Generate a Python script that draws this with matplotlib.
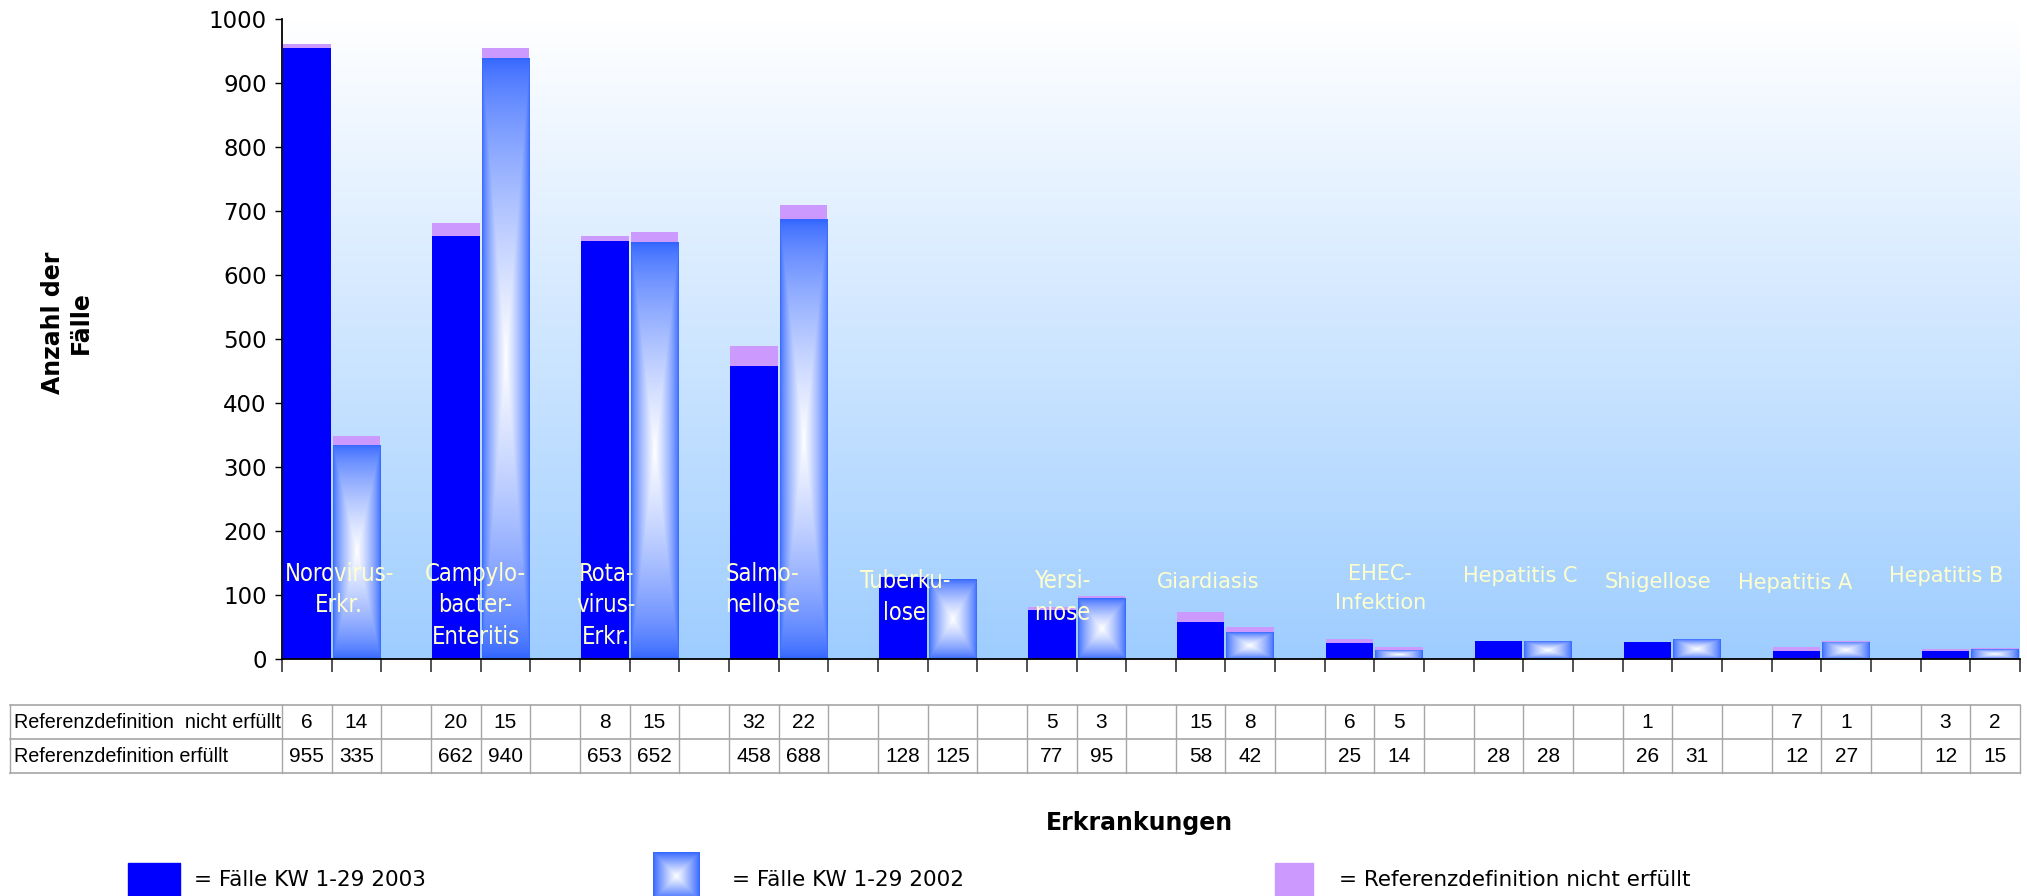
import numpy as np
import matplotlib
matplotlib.use("Agg")
import matplotlib.pyplot as plt
from matplotlib.patches import Rectangle
from matplotlib.colors import to_rgb

# ---- data -------------------------------------------------------------
categories = [
    "Norovirus-\nErkr.", "Campylo-\nbacter-\nEnteritis", "Rota-\nvirus-\nErkr.",
    "Salmo-\nnellose", "Tuberku-\nlose", "Yersi-\nniose", "Giardiasis",
    "EHEC-\nInfektion", "Hepatitis C", "Shigellose", "Hepatitis A", "Hepatitis B",
]
met_2003 = [955, 662, 653, 458, 128, 77, 58, 25, 28, 26, 12, 12]
met_2002 = [335, 940, 652, 688, 125, 95, 42, 14, 28, 31, 27, 15]
not_met_2003 = [6, 20, 8, 32, None, 5, 15, 6, None, 1, 7, 3]
not_met_2002 = [14, 15, 15, 22, None, 3, 8, 5, None, None, 1, 2]

row_labels = ["Referenzdefinition  nicht erfüllt", "Referenzdefinition erfüllt"]
legend_labels = ["= Fälle KW 1-29 2003", "= Fälle KW 1-29 2002",
                 "= Referenzdefinition nicht erfüllt"]
y_ticks = [0, 100, 200, 300, 400, 500, 600, 700, 800, 900, 1000]
y_label = "Anzahl der\nFälle"
x_label = "Erkrankungen"

# ---- layout / style ---------------------------------------------------
# horizontal nudge (in slots) and top of text block (in data units) per label
label_shift = [0.15, -0.1, -0.47, -0.32, -0.46, -0.28, -0.34, 0.12, -0.07, -0.29, -0.53, -0.48]
label_top = [152, 152, 152, 152, 140, 140, 136, 148, 146, 136, 134, 146]
narrow_labels = 6

C_2003 = "#0000FF"
C_2002 = "#3366FF"
C_NOT = "#CC99FF"
C_LABEL = "#FFFFCC"
C_GRID = "#A6A6A6"

W, H = 2027, 896
fig = plt.figure(figsize=(W / 100, H / 100), dpi=100)

AX_L, AX_R, AX_T, AX_B = 282, 2020, 19.5, 659
ax = fig.add_axes([AX_L / W, 1 - AX_B / H, (AX_R - AX_L) / W, (AX_B - AX_T) / H])

n = len(categories)
n_slots = 3 * n - 1
x03 = np.arange(n) * 3 + 0.5
x02 = x03 + 1.0
bw = 0.96


def center_gradient(edge, size=161, power=0.7):
    """Rectangular 'from centre' fill: white in the middle, edge colour at the border."""
    u = np.linspace(-1, 1, size)
    U, V = np.meshgrid(u, u)
    t = np.maximum(np.abs(U), np.abs(V))
    f = (1 - t) ** power
    e = np.array(to_rgb(edge))
    return e[None, None, :] + (1 - e)[None, None, :] * f[..., None]


# plot-area background: white at the top to light blue at the bottom
g = np.linspace(0, 1, 256)[:, None, None]
top_c = np.array([1.0, 1.0, 1.0])
bot_c = np.array([158, 205, 255]) / 255
bg = top_c * (1 - g) + bot_c * g
ax.imshow(bg, extent=[0, n_slots, 0, 1000], aspect="auto", zorder=0,
          interpolation="bilinear")

ax.bar(x03, met_2003, width=bw, color=C_2003, zorder=2)
bars02 = ax.bar(x02, met_2002, width=bw, color=C_2002, zorder=2)
nm03 = [v if v else 0 for v in not_met_2003]
nm02 = [v if v else 0 for v in not_met_2002]
ax.bar(x03, nm03, bottom=met_2003, width=bw, color=C_NOT, zorder=2)
ax.bar(x02, nm02, bottom=met_2002, width=bw, color=C_NOT, zorder=2)

grad = center_gradient(C_2002)
for p in bars02:
    x0, y0, w, h = p.get_x(), p.get_y(), p.get_width(), p.get_height()
    im = ax.imshow(grad, extent=[x0, x0 + w, y0, y0 + h], aspect="auto",
                   zorder=2.5, interpolation="bilinear")
    im.set_clip_path(p)

for i, name in enumerate(categories):
    if i < narrow_labels:
        kw = dict(family=["DejaVu Sans"], fontsize=17, fontstretch="condensed",
                  linespacing=1.39)
    else:
        kw = dict(family=["DejaVu Sans"], fontsize=15, linespacing=1.55)
    ax.text(3 * i + 1 + label_shift[i], label_top[i], name, color=C_LABEL,
            ha="center", va="top", multialignment="center", zorder=4, **kw)

ax.set_xlim(0, n_slots)
ax.set_ylim(0, 1000)
ax.set_xticks(np.arange(0, n_slots + 1))
ax.set_xticklabels([])
ax.set_yticks(y_ticks)
ax.set_yticklabels([str(v) for v in y_ticks], fontsize=16.5, family="DejaVu Sans")
ax.tick_params(axis="x", direction="out", length=9.5, width=1.2, color="#333333")
ax.tick_params(axis="y", direction="out", length=5, width=1.0, pad=6)
for s in ("top", "right"):
    ax.spines[s].set_visible(False)
for s in ("left", "bottom"):
    ax.spines[s].set_linewidth(1.3)
    ax.spines[s].set_color("black")

# ---- data table below the axis --------------------------------------
TB_L, TB_T, TB_B = 10, 705, 773
slot_px = (AX_R - AX_L) / n_slots
left_slots = -(AX_L - TB_L) / slot_px
axt = fig.add_axes([TB_L / W, 1 - TB_B / H, (AX_R - TB_L) / W, (TB_B - TB_T) / H])
axt.set_xlim(left_slots, n_slots)
axt.set_ylim(0, 2)
axt.axis("off")
for yy in (0, 1, 2):
    axt.plot([left_slots, n_slots], [yy, yy], color=C_GRID, lw=1.2, clip_on=False)
for xx in [left_slots] + list(range(0, n_slots + 1)):
    axt.plot([xx, xx], [0, 2], color=C_GRID, lw=1.0, clip_on=False)

tkw = dict(family=["Liberation Sans", "DejaVu Sans"], fontsize=15, color="black")
hkw = dict(tkw, fontsize=14.2)
axt.text(left_slots + 4 / slot_px, 1.5, row_labels[0], ha="left", va="center", **hkw)
axt.text(left_slots + 4 / slot_px, 0.5, row_labels[1], ha="left", va="center", **hkw)
for i in range(n):
    for xs, nm, mt in ((x03[i], not_met_2003[i], met_2003[i]),
                       (x02[i], not_met_2002[i], met_2002[i])):
        if nm:
            axt.text(xs, 1.5, str(nm), ha="center", va="center", **tkw)
        axt.text(xs, 0.5, str(mt), ha="center", va="center", **tkw)

# ---- axis titles ------------------------------------------------------
fig.text(1139 / W, 1 - 823 / H, x_label, ha="center", va="center",
         fontsize=17, fontweight="bold", family="DejaVu Sans")
fig.text(67 / W, 1 - 323 / H, y_label, ha="center", va="center", rotation=90,
         multialignment="center", fontsize=17, fontweight="bold", family="DejaVu Sans")

# ---- legend strip (pixel coordinates, y downwards) --------------------
axl = fig.add_axes([0, 0, 1, 60 / H])
axl.axis("off")
axl.add_patch(Rectangle((128, 863), 52, 40, color=C_2003))
axl.imshow(center_gradient(C_2002, power=0.9), extent=[653, 700, 900, 853],
           aspect="auto", interpolation="bilinear")
axl.add_patch(Rectangle((1275, 863), 38, 40, color=C_NOT))
axl.set_xlim(0, W)
axl.set_ylim(H, H - 60)
lkw = dict(fontsize=15.5, family="DejaVu Sans", va="center", ha="left")
axl.text(194, 880, legend_labels[0], **lkw)
axl.text(732, 880, legend_labels[1], **lkw)
axl.text(1339, 880, legend_labels[2], **lkw)

fig.savefig("out.png", dpi=100)
